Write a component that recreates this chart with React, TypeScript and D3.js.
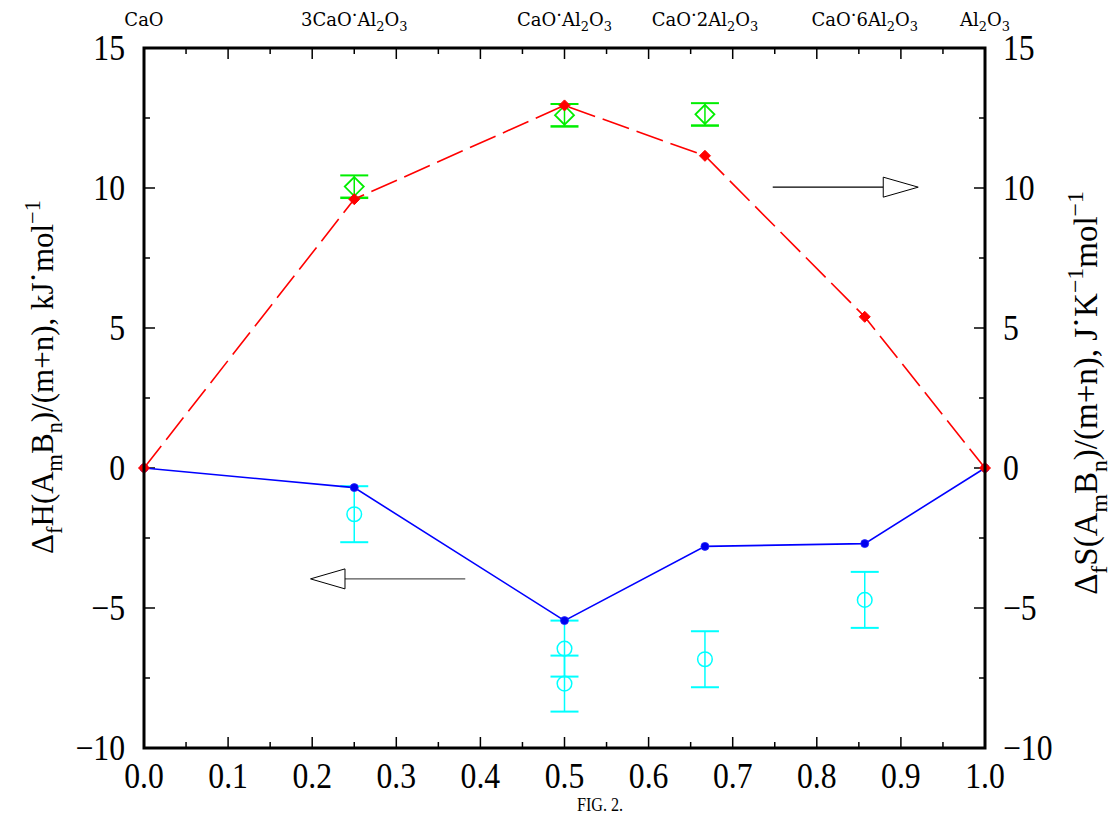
import React from 'react';
import * as d3 from 'd3';

// ---------- data ----------
const compositionX = [0, 0.25, 0.5, 0.667, 0.857, 1.0];
const compoundLabels = ['CaO', '3CaO·Al_2O_3', 'CaO·Al_2O_3', 'CaO·2Al_2O_3', 'CaO·6Al_2O_3', 'Al_2O_3'];
const enthalpyCalc = [0, -0.7, -5.45, -2.8, -2.7, 0];
const entropyCalc = [0, 9.6, 12.95, 11.15, 5.4, 0];
const enthalpyExpX = [0.25, 0.5, 0.5, 0.667, 0.857];
const enthalpyExpY = [-1.65, -6.45, -7.7, -6.83, -4.71];
const enthalpyExpErr = [1.0, 1.0, 1.0, 1.0, 1.0];
const entropyExpX = [0.25, 0.5, 0.667];
const entropyExpY = [10.05, 12.6, 12.63];
const entropyExpErr = [0.4, 0.4, 0.4];
const xTickValues = [0, 0.1, 0.2, 0.3, 0.4, 0.5, 0.6, 0.7, 0.8, 0.9, 1.0];
const xTickLabels = ['0.0', '0.1', '0.2', '0.3', '0.4', '0.5', '0.6', '0.7', '0.8', '0.9', '1.0'];
const xMinorTicks = [0.05, 0.15, 0.25, 0.35, 0.45, 0.55, 0.65, 0.75, 0.85, 0.95];
const yTickValues = [-10, -5, 0, 5, 10, 15];
const yTickLabels = ['−10', '−5', '0', '5', '10', '15'];
const yMinorTicks = [-7.5, -2.5, 2.5, 7.5, 12.5];
const leftTitle = 'Δ_fH(A_mB_n)/(m+n), kJ·mol^{−1}';
const rightTitle = 'Δ_fS(A_mB_n)/(m+n), J·K^{−1}mol^{−1}';
const arrowLeft = { y: -3.96, from: 0.382, base: 0.239, tip: 0.198 };
const arrowRight = { y: 10.03, from: 0.7476, base: 0.879, tip: 0.9206 };

// ---------- layout ----------
const W = 1114, H = 818;
const L = 144, R = 985, T = 48, B = 748;
const x = d3.scaleLinear().domain([0, 1]).range([L, R]);
const y = d3.scaleLinear().domain([-10, 15]).range([B, T]);

const SERIF = "'Liberation Serif', 'Times New Roman', Times, serif";
const SERIF2 = "'DejaVu Serif', 'Liberation Serif', serif";

type Seg = { t: string; k: 'n' | 'sub' | 'sup' | 'dot' };
function parse(s: string): Seg[] {
  const out: Seg[] = [];
  let i = 0;
  let buf = '';
  const flush = () => { if (buf) { out.push({ t: buf, k: 'n' }); buf = ''; } };
  while (i < s.length) {
    const c = s[i];
    if (c === '_' || c === '^') {
      flush();
      let t = '';
      if (s[i + 1] === '{') {
        const j = s.indexOf('}', i);
        t = s.slice(i + 2, j);
        i = j + 1;
      } else { t = s[i + 1]; i += 2; }
      out.push({ t, k: c === '_' ? 'sub' : 'sup' });
    } else if (c === '·') {
      flush(); out.push({ t: '·', k: 'dot' }); i++;
    } else { buf += c; i++; }
  }
  flush();
  return out;
}

function Formula({ text, fs }: { text: string; fs: number }) {
  const segs = parse(text);
  let cur = 0;
  return (
    <>
      {segs.map((s, i) => {
        const off = s.k === 'sub' ? fs * 0.3 : s.k === 'sup' ? -fs * 0.42 : s.k === 'dot' ? -fs * 0.3 : 0;
        const dy = off - cur;
        cur = off;
        const size = s.k === 'sub' || s.k === 'sup' ? fs * 0.72 : fs;
        return (
          <tspan key={i} dy={dy} style={{ fontSize: size }}>{s.t}</tspan>
        );
      })}
    </>
  );
}

export default function App() {
  const lineGen = d3.line<number>().x((_, i) => x(compositionX[i])).y(d => y(d));
  const cap = 14;
  const tickStyle = { fontFamily: SERIF, fontSize: 36 };
  return (
    <svg width={W} height={H} style={{ position: 'absolute', left: 0, top: 0, background: '#fff' }}>
      <rect x={0} y={0} width={W} height={H} fill="#fff" />

      {/* top compound labels */}
      {compoundLabels.map((lab, i) => (
        <text key={lab} x={x(compositionX[i])} y={26} textAnchor="middle"
          style={{ fontFamily: SERIF2, fontSize: 18 }} fill="#000">
          <Formula text={lab} fs={18} />
        </text>
      ))}

      {/* ticks */}
      <g stroke="#000" strokeWidth={1.5}>
        {xTickValues.map(v => (
          <g key={'xt' + v}>
            <line x1={x(v)} x2={x(v)} y1={B} y2={B - 11} />
            <line x1={x(v)} x2={x(v)} y1={T} y2={T + 11} />
          </g>
        ))}
        {xMinorTicks.map(v => (
          <g key={'xm' + v}>
            <line x1={x(v)} x2={x(v)} y1={B} y2={B - 6} />
            <line x1={x(v)} x2={x(v)} y1={T} y2={T + 6} />
          </g>
        ))}
        {yTickValues.map(v => (
          <g key={'yt' + v}>
            <line x1={L} x2={L + 11} y1={y(v)} y2={y(v)} />
            <line x1={R} x2={R - 11} y1={y(v)} y2={y(v)} />
          </g>
        ))}
        {yMinorTicks.map(v => (
          <g key={'ym' + v}>
            <line x1={L} x2={L + 6} y1={y(v)} y2={y(v)} />
            <line x1={R} x2={R - 6} y1={y(v)} y2={y(v)} />
          </g>
        ))}
      </g>

      {/* tick labels */}
      {xTickValues.map((v, i) => (
        <text key={'xl' + v} transform={`translate(${x(v)},788) scale(0.88,1)`} textAnchor="middle"
          style={tickStyle} fill="#000">{xTickLabels[i]}</text>
      ))}
      {yTickValues.map((v, i) => (
        <g key={'yl' + v}>
          <text transform={`translate(125,${y(v) + 12}) scale(0.88,1)`} textAnchor="end"
            style={tickStyle} fill="#000">{yTickLabels[i]}</text>
          <text transform={`translate(1003,${y(v) + 12}) scale(0.88,1)`} textAnchor="start"
            style={tickStyle} fill="#000">{yTickLabels[i]}</text>
        </g>
      ))}

      {/* axis titles */}
      <text transform={`translate(53,377) rotate(-90)`} textAnchor="middle" style={{ fontFamily: SERIF, fontSize: 31 }} fill="#000">
        <Formula text={leftTitle} fs={31} />
      </text>
      <text transform={`translate(1097,393) rotate(-90)`} textAnchor="middle" style={{ fontFamily: SERIF, fontSize: 33 }} fill="#000">
        <Formula text={rightTitle} fs={33} />
      </text>

      {/* arrows */}
      <g>
        <line x1={x(arrowLeft.from)} x2={x(arrowLeft.base)} y1={y(arrowLeft.y)} y2={y(arrowLeft.y)} stroke="#555" strokeWidth={1.3} />
        <polygon points={`${x(arrowLeft.tip)},${y(arrowLeft.y)} ${x(arrowLeft.base)},${y(arrowLeft.y) - 10} ${x(arrowLeft.base)},${y(arrowLeft.y) + 10}`}
          fill="#fff" stroke="#000" strokeWidth={1} />
        <line x1={x(arrowRight.from)} x2={x(arrowRight.base)} y1={y(arrowRight.y)} y2={y(arrowRight.y)} stroke="#000" strokeWidth={1.2} />
        <polygon points={`${x(arrowRight.tip)},${y(arrowRight.y)} ${x(arrowRight.base)},${y(arrowRight.y) - 10} ${x(arrowRight.base)},${y(arrowRight.y) + 10}`}
          fill="#fff" stroke="#000" strokeWidth={1} />
      </g>

      {/* cyan experimental enthalpy */}
      <g stroke="#00ffff" fill="none">
        {enthalpyExpX.map((vx, i) => {
          const cx = x(vx), cy = y(enthalpyExpY[i]);
          const y1 = y(enthalpyExpY[i] + enthalpyExpErr[i]);
          const y2 = y(enthalpyExpY[i] - enthalpyExpErr[i]);
          return (
            <g key={'ce' + i}>
              <line x1={cx} x2={cx} y1={y1} y2={y2} strokeWidth={1.5} />
              <line x1={cx - cap} x2={cx + cap} y1={y1} y2={y1} strokeWidth={2} />
              <line x1={cx - cap} x2={cx + cap} y1={y2} y2={y2} strokeWidth={2} />
              <circle cx={cx} cy={cy} r={7.3} strokeWidth={1.5} />
            </g>
          );
        })}
      </g>

      {/* blue calculated enthalpy */}
      <path d={lineGen(enthalpyCalc) || ''} fill="none" stroke="#0000ff" strokeWidth={1.6} />
      {enthalpyCalc.map((v, i) => (
        <circle key={'bc' + i} cx={x(compositionX[i])} cy={y(v)} r={4} fill="#0000ee" stroke="#2222ff" strokeWidth={0.8} />
      ))}

      {/* green experimental entropy */}
      <g stroke="#00ee00" fill="none">
        {entropyExpX.map((vx, i) => {
          const cx = x(vx), cy = y(entropyExpY[i]);
          const y1 = y(entropyExpY[i] + entropyExpErr[i]);
          const y2 = y(entropyExpY[i] - entropyExpErr[i]);
          const d = 9.5;
          return (
            <g key={'ge' + i}>
              <line x1={cx} x2={cx} y1={y1} y2={y2} strokeWidth={1.5} />
              <line x1={cx - cap} x2={cx + cap} y1={y1} y2={y1} strokeWidth={2} />
              <line x1={cx - cap} x2={cx + cap} y1={y2} y2={y2} strokeWidth={2.5} />
              <polygon points={`${cx},${cy - d} ${cx + d},${cy} ${cx},${cy + d} ${cx - d},${cy}`} strokeWidth={1.8} />
            </g>
          );
        })}
      </g>

      {/* red calculated entropy */}
      <path d={lineGen(entropyCalc) || ''} fill="none" stroke="#ff0000" strokeWidth={1.6} strokeDasharray="28,8" />
      {entropyCalc.map((v, i) => {
        const cx = x(compositionX[i]), cy = y(v), d = 5.5;
        return (
          <polygon key={'rc' + i} points={`${cx},${cy - d} ${cx + d},${cy} ${cx},${cy + d} ${cx - d},${cy}`} fill="#ff0000" stroke="#ff0000" strokeWidth={1} />
        );
      })}

      {/* frame */}
      <rect x={L} y={T} width={R - L} height={B - T} fill="none" stroke="#000" strokeWidth={3} />

      <text transform={`translate(600,811) scale(0.85,1)`} textAnchor="middle" style={{ fontFamily: SERIF, fontSize: 19 }} fill="#000">FIG. 2.</text>
    </svg>
  );
}
